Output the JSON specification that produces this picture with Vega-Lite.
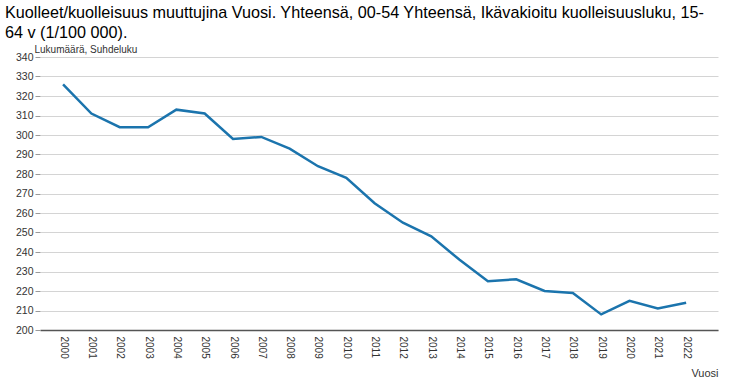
{
  "$schema": "https://vega.github.io/schema/vega-lite/v6.json",
  "width": 678,
  "height": 273,
  "autosize": {"type": "none"},
  "padding": {"left": 40, "top": 57, "right": 15, "bottom": 59},
  "background": "white",
  "title": {
    "text": ["Kuolleet/kuolleisuus muuttujina Vuosi. Yhteensä, 00-54 Yhteensä, Ikävakioitu kuolleisuusluku, 15-", "64 v (1/100 000)."],
    "anchor": "start",
    "frame": "group",
    "orient": "top",
    "dx": -35,
    "offset": 3,
    "font": "Liberation Sans",
    "fontSize": 16.2,
    "fontWeight": "normal",
    "color": "#000000",
    "lineHeight": 20
  },
  "config": {
    "view": {"stroke": null},
    "font": "Liberation Sans"
  },
  "data": {
    "values": [
      {"Vuosi": "2000", "value": 326},
      {"Vuosi": "2001", "value": 311},
      {"Vuosi": "2002", "value": 304},
      {"Vuosi": "2003", "value": 304},
      {"Vuosi": "2004", "value": 313},
      {"Vuosi": "2005", "value": 311},
      {"Vuosi": "2006", "value": 298},
      {"Vuosi": "2007", "value": 299},
      {"Vuosi": "2008", "value": 293},
      {"Vuosi": "2009", "value": 284},
      {"Vuosi": "2010", "value": 278},
      {"Vuosi": "2011", "value": 265},
      {"Vuosi": "2012", "value": 255},
      {"Vuosi": "2013", "value": 248},
      {"Vuosi": "2014", "value": 236},
      {"Vuosi": "2015", "value": 225},
      {"Vuosi": "2016", "value": 226},
      {"Vuosi": "2017", "value": 220},
      {"Vuosi": "2018", "value": 219},
      {"Vuosi": "2019", "value": 208},
      {"Vuosi": "2020", "value": 215},
      {"Vuosi": "2021", "value": 211},
      {"Vuosi": "2022", "value": 214}
    ]
  },
  "mark": {"type": "line", "color": "#1b74ad", "strokeWidth": 2.5},
  "encoding": {
    "x": {
      "field": "Vuosi",
      "type": "ordinal",
      "scale": {"type": "point", "padding": 0.97, "align": 0.42},
      "axis": {
        "title": "Vuosi",
        "titleAnchor": "end",
        "titleAlign": "right",
        "titleX": 678,
        "titleY": 46,
        "titleBaseline": "alphabetic",
        "titleFontSize": 11,
        "titleFontWeight": "normal",
        "titleColor": "#333333",
        "labelAngle": 90,
        "labelAlign": "left",
        "labelBaseline": "middle",
        "labelFontSize": 10,
        "labelColor": "#333333",
        "labelPadding": 6,
        "ticks": false,
        "domainColor": "#555555",
        "domainWidth": 1.5,
        "grid": false
      }
    },
    "y": {
      "field": "value",
      "type": "quantitative",
      "scale": {"domain": [200, 340], "nice": false, "zero": false},
      "axis": {
        "title": "Lukumäärä, Suhdeluku",
        "titleAngle": 0,
        "titleAlign": "left",
        "titleBaseline": "alphabetic",
        "titleX": -6,
        "titleY": -5,
        "titleFontSize": 10,
        "titleFontWeight": "normal",
        "titleColor": "#333333",
        "values": [200, 210, 220, 230, 240, 250, 260, 270, 280, 290, 300, 310, 320, 330, 340],
        "labelFontSize": 10.5,
        "labelColor": "#333333",
        "labelPadding": 2,
        "tickSize": 5,
        "tickColor": "#999999",
        "domain": false,
        "gridColor": "#d4d4d4",
        "gridWidth": 1
      }
    }
  }
}
